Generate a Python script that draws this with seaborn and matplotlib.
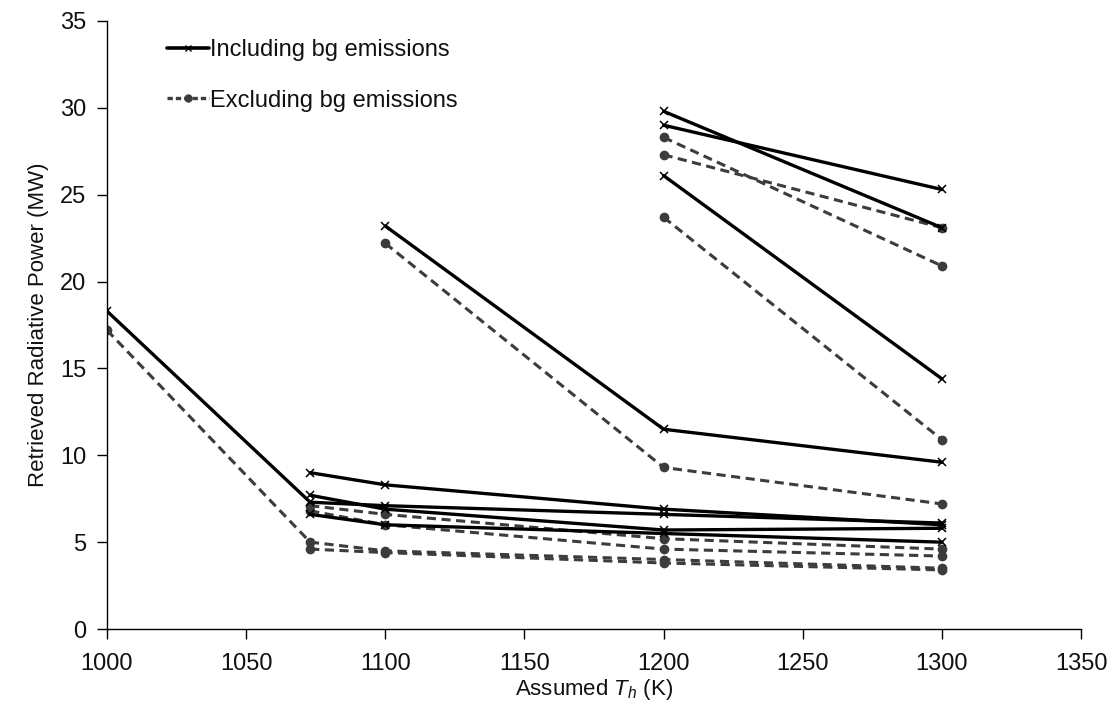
import matplotlib
matplotlib.use("Agg")
import matplotlib.pyplot as plt
import seaborn as sns
import pandas as pd
import numpy as np
from matplotlib.lines import Line2D

# ---- data ----
th_values = [1000, 1073, 1100, 1200, 1300]
nan = np.nan
# Including background emissions (MW)
incl_a = [nan, nan, nan, 29.8, 23.1]
incl_b = [nan, nan, nan, 29.0, 25.3]
incl_c = [nan, nan, nan, 26.1, 14.4]
incl_d = [nan, nan, 23.2, 11.5, 9.6]
incl_e = [nan, 9.0, 8.3, 6.9, 6.0]
incl_f = [18.3, 7.3, 7.1, 6.6, 6.1]
incl_g = [nan, 7.7, 6.9, 5.7, 5.8]
incl_h = [nan, 6.6, 6.0, 5.5, 5.0]
# Excluding background emissions (MW)
excl_a = [nan, nan, nan, 28.3, 20.9]
excl_b = [nan, nan, nan, 27.3, 23.1]
excl_c = [nan, nan, nan, 23.7, 10.9]
excl_d = [nan, nan, 22.2, 9.3, 7.2]
excl_e = [nan, 7.1, 6.6, 5.2, 4.6]
excl_f = [17.2, 5.0, 4.5, 4.0, 3.5]
excl_g = [nan, 6.8, 6.0, 4.6, 4.2]
excl_h = [nan, 4.6, 4.4, 3.8, 3.4]

incl_all = [incl_a, incl_b, incl_c, incl_d, incl_e, incl_f, incl_g, incl_h]
excl_all = [excl_a, excl_b, excl_c, excl_d, excl_e, excl_f, excl_g, excl_h]
x_ticks = [1000, 1050, 1100, 1150, 1200, 1250, 1300, 1350]
y_ticks = [0, 5, 10, 15, 20, 25, 30, 35]

sns.set_theme(style="ticks")
plt.rcParams['font.family'] = ['Liberation Sans', 'DejaVu Sans']
plt.rcParams['mathtext.fontset'] = 'custom'
plt.rcParams['mathtext.it'] = 'Liberation Sans:italic'
plt.rcParams['mathtext.rm'] = 'Liberation Sans'

fig = plt.figure(figsize=(11.18, 7.09), dpi=100)
ax = fig.add_axes([0.0957, 0.1128, 0.8713, 0.8576])

def to_frame(series_list, prefix):
    rows = []
    for i, s in enumerate(series_list):
        for x, v in zip(th_values, s):
            if not np.isnan(v):
                rows.append(dict(th=x, val=v, sid=f"{prefix}{i}"))
    return pd.DataFrame(rows)

df_e = to_frame(excl_all, "e")
df_i = to_frame(incl_all, "i")

excl_color = "#3c3c3c"
for sid, g in df_e.groupby("sid"):
    sns.lineplot(data=g, x="th", y="val", ax=ax, color=excl_color, lw=2.2,
                 linestyle=(0, (3, 1.8)), marker="o", markersize=7,
                 markeredgewidth=0, markerfacecolor=excl_color,
                 estimator=None, sort=False, legend=False)
for sid, g in df_i.groupby("sid"):
    sns.lineplot(data=g, x="th", y="val", ax=ax, color="black", lw=2.4,
                 marker="x", markersize=6, markeredgewidth=1.1,
                 markeredgecolor="black",
                 estimator=None, sort=False, legend=False)

ax.set_xlim(1000, 1350)
ax.set_ylim(0, 35)
ax.set_xticks(x_ticks)
ax.set_yticks(y_ticks)
ax.set_xticklabels([str(t) for t in x_ticks], fontsize=17)
ax.set_yticklabels([str(t) for t in y_ticks], fontsize=17)
ax.tick_params(axis='both', direction='out', length=7, width=1.0, color='black',
               labelcolor='#111111')
ax.tick_params(axis='x', pad=10)
ax.tick_params(axis='y', pad=8)
sns.despine(ax=ax)
for sp in ['left', 'bottom']:
    ax.spines[sp].set_color('black')
    ax.spines[sp].set_linewidth(1.0)

ax.set_xlabel(r"Assumed $T_h$ (K)", fontsize=16, labelpad=2, color='#111111')
ax.set_ylabel("Retrieved Radiative Power (MW)", fontsize=16, labelpad=8,
              color='#111111')

handles = [
    Line2D([], [], color='black', lw=2.6, marker='x', markersize=4,
           markeredgewidth=1.0),
    Line2D([], [], color=excl_color, lw=2.4, linestyle=(0, (1.6, 0.9)),
           marker='o', markersize=6, markeredgewidth=0),
]
leg = ax.legend(handles, ["Including bg emissions", "Excluding bg emissions"],
                loc='upper left', bbox_to_anchor=(0.04, 1.005), frameon=False,
                fontsize=17, handlelength=1.75, handletextpad=0.08,
                labelspacing=1.2)
for t in leg.get_texts():
    t.set_color('#111111')

fig.savefig("out.png", dpi=100)
